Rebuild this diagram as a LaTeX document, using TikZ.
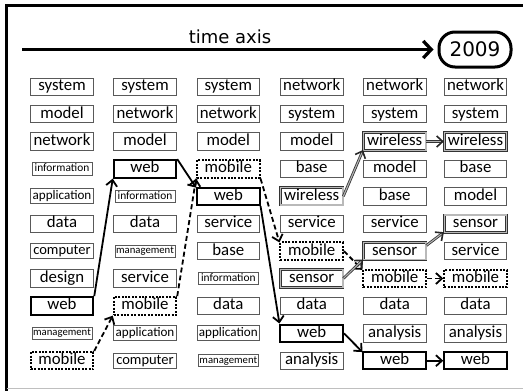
\documentclass[tikz,border=0pt]{standalone}
\usepackage{fontspec}
\setmainfont{Carlito}
\newfontfamily\headfont{DejaVu Sans}
\usetikzlibrary{arrows.meta}

% one column of ranked words: x position, column number, word/style list
\newcommand\wordcolumn[3]{%
  \foreach \t/\s [count=\r] in {#3}
    \node[\s] (c#2r\r) at (#1,{86.7+27.4*(\r-1)}) {\t};%
}

\tikzset{
  wordbox/.style={draw=black!65, line width=0.9pt, minimum width=62.5pt,
    minimum height=17.5pt, inner sep=0pt},
  plain/.style={wordbox, font=\fontsize{16.8}{18}\selectfont,
    text height=11.8pt, text depth=3.9pt},
  appl/.style={wordbox, font=\fontsize{13.1}{14}\selectfont,
    minimum height=15pt, text height=9.2pt, text depth=3pt},
  comp/.style={wordbox, font=\fontsize{14.5}{15}\selectfont,
    minimum height=14.5pt, text height=10.2pt, text depth=3.3pt},
  info/.style={wordbox, minimum width=60pt, font=\fontsize{11.4}{12}\selectfont,
    minimum height=12.5pt, text height=8pt, text depth=2.6pt},
  mgmt/.style={wordbox, minimum width=60pt, font=\fontsize{10.7}{11}\selectfont,
    minimum height=12pt, text height=7.5pt, text depth=2.5pt},
  webb/.style={plain, draw=black, line width=2pt},
  mobb/.style={plain, draw=black, line width=2pt, dash pattern=on 2pt off 1.4pt},
  dblb/.style={plain, draw=black!80, line width=0.75pt, double=gray!55,
    double distance=1.2pt},
  tip/.style={-{Straight Barb[length=6pt,width=11pt]}},
  webarr/.style={tip, line width=1.8pt},
  mobarr/.style={tip, line width=1.8pt, dash pattern=on 5pt off 3pt},
  dblarr/.style={draw=black!80, line width=0.8pt, double=gray!60,
    double distance=1.1pt,
    -{Straight Barb[length=6pt,width=11pt,line width=1.6pt,black!85]}},
}

\begin{document}
\begin{tikzpicture}[x=1pt,y=-1pt]
\useasboundingbox (0,0) rectangle (523,391);

% frame
\draw[line width=2.2pt] (6.5,391) -- (6.5,5.5) -- (523,5.5);
\draw[black!25, line width=1pt] (6.5,388.5) -- (523,388.5);

% time axis
\node[draw, line width=3pt, rounded corners=16pt, minimum width=72pt,
  minimum height=35pt, inner sep=0pt,
  font=\headfont\fontsize{20}{20}\selectfont] (year) at (475,49.5) {2009};
\coordinate (axstart) at (22,49.5);
\draw[line width=3.3pt, -{Straight Barb[length=8pt,width=17pt]}, shorten >=4pt]
  (axstart) -- (year.west);
\node[font=\headfont\fontsize{18}{18}\selectfont, anchor=base, inner sep=0pt]
  (axlabel) at (230,43.3) {time axis};

% ranked words per period
\wordcolumn{62}{1}{system/plain, model/plain, network/plain, information/info,
  application/appl, data/plain, computer/comp, design/plain, web/webb,
  management/mgmt, mobile/mobb}
\wordcolumn{145}{2}{system/plain, network/plain, model/plain, web/webb,
  information/info, data/plain, management/mgmt, service/plain, mobile/mobb,
  application/appl, computer/comp}
\wordcolumn{228.3}{3}{system/plain, network/plain, model/plain, mobile/mobb,
  web/webb, service/plain, base/plain, information/info, data/plain,
  application/appl, management/mgmt}
\wordcolumn{311.7}{4}{network/plain, system/plain, model/plain, base/plain,
  wireless/dblb, service/plain, mobile/mobb, sensor/dblb, data/plain,
  web/webb, analysis/plain}
\wordcolumn{394.7}{5}{network/plain, system/plain, wireless/dblb, model/plain,
  base/plain, service/plain, sensor/dblb, mobile/mobb, data/plain,
  analysis/plain, web/webb}
\wordcolumn{475.5}{6}{network/plain, system/plain, wireless/dblb, base/plain,
  model/plain, sensor/dblb, service/plain, mobile/mobb, data/plain,
  analysis/plain, web/webb}

% trajectory of "web"
\draw[webarr] (c1r9.north east) -- (c2r4.south west);
\draw[webarr] (c2r4.north east) -- (c3r5.165);
\draw[webarr] (c3r5.south east) -- (c4r10.north west);
\draw[webarr] (c4r10.east) -- (c5r11.165);
\draw[webarr] (c5r11.east) -- (c6r11.west);

% trajectory of "mobile"
\draw[mobarr] (c1r11.north east) -- (c2r9.south west);
\draw[mobarr] (c2r9.north east) -- (c3r4.south west);
\draw[mobarr] (c3r4.south east) -- (c4r7.165);
\draw[mobarr] (c4r7.east) -- (c5r8.165);
\draw[mobarr] (c5r8.east) -- (c6r8.west);

% trajectory of "wireless"
\draw[dblarr] (c4r5.east) -- (c5r3.195);
\draw[dblarr] (c5r3.east) -- (c6r3.west);

% trajectory of "sensor"
\draw[dblarr] (c4r8.east) -- (c5r7.195);
\draw[dblarr] (c5r7.10) -- (c6r6.195);
\end{tikzpicture}
\end{document}
